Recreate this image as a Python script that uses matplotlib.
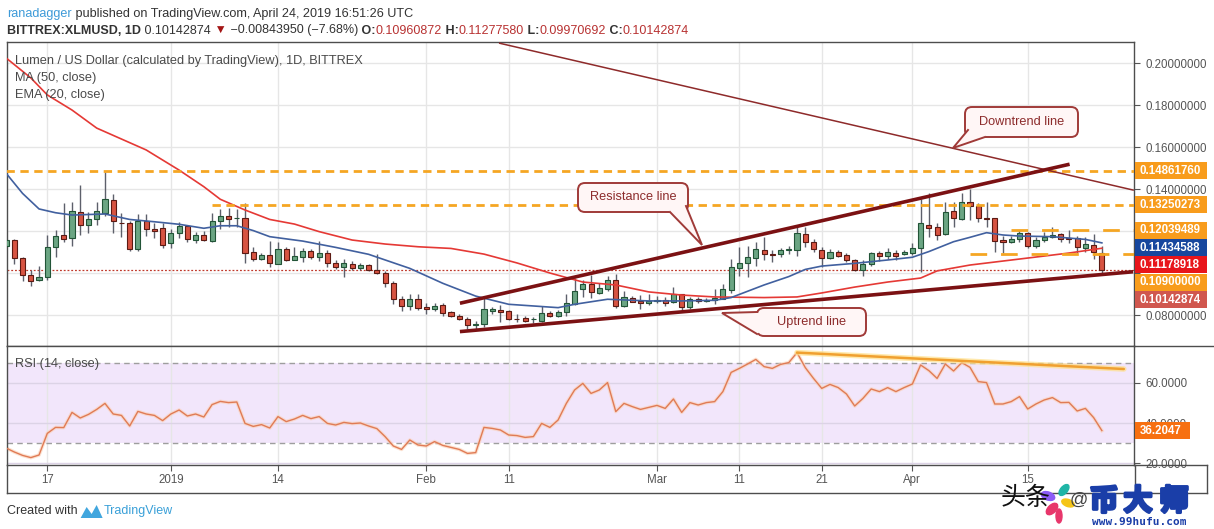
#!/usr/bin/env python3
"""XLM/USD daily candles with MA/EMA, trend lines and RSI, TradingView style."""

import matplotlib

matplotlib.use("Agg")
import matplotlib.dates as mdates
import matplotlib.patheffects as pe
import matplotlib.pyplot as plt
import numpy as np
import pandas as pd
from matplotlib.patches import Ellipse, FancyBboxPatch, Polygon, Rectangle

W, H = 1214, 529
FONT = ["Liberation Sans", "DejaVu Sans"]
CJK = ["Noto Sans CJK SC", "DejaVu Sans"]

# ---- daily candles, first bar 2018-12-12, last bar 2019-04-24 ----
first_day = "2018-12-12"

opens = [
    0.1129, 0.1157, 0.1070, 0.0989, 0.0965, 0.0979, 0.1122, 0.1179, 0.1165, 0.1289,
    0.1227, 0.1256, 0.1287, 0.1346, 0.1240, 0.1236, 0.1113, 0.1248, 0.1208, 0.1213,
    0.1141, 0.1189, 0.1222, 0.1159, 0.1179, 0.1154, 0.1246, 0.1270, 0.1260, 0.1260,
    0.1100, 0.1068, 0.1084, 0.1044, 0.1113, 0.1064, 0.1078, 0.1105, 0.1078, 0.1094,
    0.1046, 0.1030, 0.1041, 0.1025, 0.1036, 0.1014, 0.1002, 0.0954, 0.0875, 0.0843,
    0.0875,
    0.0838, 0.0827, 0.0846, 0.0813, 0.0795, 0.0783, 0.0751, 0.0756, 0.0821, 0.0824,
    0.0817, 0.0783, 0.0784, 0.0779, 0.0773, 0.0808, 0.0794, 0.0813, 0.0854, 0.0922,
    0.0946, 0.0906, 0.0925, 0.0965, 0.0843, 0.0879, 0.0868, 0.0856,
    0.0865, 0.0870, 0.0860, 0.0898, 0.0836, 0.0878, 0.0865, 0.0871, 0.0878, 0.0921,
    0.1022, 0.1046, 0.1073, 0.1108, 0.1089, 0.1089, 0.1108, 0.1111, 0.1186, 0.1146,
    0.1111, 0.1073, 0.1098, 0.1086, 0.1062, 0.1014, 0.1041, 0.1095, 0.1083, 0.1097,
    0.1089,
    0.1097, 0.1117, 0.1229, 0.1218, 0.1184, 0.1295, 0.1257, 0.1337, 0.1319, 0.1262,
    0.1260, 0.1157, 0.1146, 0.1160, 0.1189, 0.1129, 0.1157, 0.1173, 0.1184, 0.1165,
    0.1168, 0.1121, 0.1132, 0.10960872,
]
highs = [
    0.1165, 0.1164, 0.1078, 0.1014, 0.1033, 0.1179, 0.1205, 0.1332, 0.1337, 0.1419,
    0.1292, 0.1340, 0.1483, 0.1375, 0.1287, 0.1249, 0.1281, 0.1281, 0.1236, 0.1236,
    0.1210, 0.1244, 0.1229, 0.1195, 0.1202, 0.1284, 0.1306, 0.1308, 0.1303, 0.1332,
    0.1125, 0.1094, 0.1152, 0.1146, 0.1122, 0.1122, 0.1117, 0.1113, 0.1154, 0.1110,
    0.1062, 0.1065, 0.1057, 0.1049, 0.1043, 0.1090, 0.1010, 0.0962, 0.0890, 0.0902,
    0.0902,
    0.0857, 0.0856, 0.0857, 0.0819, 0.0805, 0.0792, 0.0771, 0.0879, 0.0838, 0.0846,
    0.0824, 0.0803, 0.0795, 0.0792, 0.0843, 0.0819, 0.0822, 0.0900, 0.0975, 0.0965,
    0.0990, 0.0951, 0.0987, 0.0997, 0.0914, 0.0892, 0.0895, 0.0898,
    0.0889, 0.0887, 0.0935, 0.0902, 0.0887, 0.0887, 0.0883, 0.0925, 0.0946, 0.1068,
    0.1125, 0.1129, 0.1149, 0.1170, 0.1110, 0.1117, 0.1129, 0.1225, 0.1221, 0.1162,
    0.1122, 0.1113, 0.1110, 0.1094, 0.1065, 0.1062, 0.1102, 0.1106, 0.1117, 0.1111,
    0.1110,
    0.1141, 0.1352, 0.1379, 0.1240, 0.1340, 0.1340, 0.1379, 0.1398, 0.1332, 0.1337,
    0.1263, 0.1178, 0.1176, 0.1205, 0.1197, 0.1170, 0.1194, 0.1218, 0.1189, 0.1205,
    0.1176, 0.1173, 0.1186, 0.11277580,
]
lows = [
    0.1122, 0.1043, 0.0962, 0.0938, 0.0964, 0.0967, 0.1078, 0.1149, 0.1127, 0.1179,
    0.1189, 0.1227, 0.1271, 0.1192, 0.1170, 0.1106, 0.1106, 0.1178, 0.1168, 0.1119,
    0.1121, 0.1168, 0.1146, 0.1141, 0.1154, 0.1149, 0.1208, 0.1217, 0.1217, 0.1046,
    0.1059, 0.1062, 0.1030, 0.1041, 0.1056, 0.1060, 0.1054, 0.1065, 0.1057, 0.1027,
    0.1021, 0.0983, 0.1014, 0.1014, 0.1008, 0.0995, 0.0932, 0.0851, 0.0821, 0.0824,
    0.0824,
    0.0803, 0.0821, 0.0794, 0.0790, 0.0775, 0.0732, 0.0729, 0.0744, 0.0803, 0.0768,
    0.0776, 0.0765, 0.0765, 0.0764, 0.0768, 0.0790, 0.0789, 0.0797, 0.0848, 0.0887,
    0.0879, 0.0902, 0.0914, 0.0835, 0.0838, 0.0860, 0.0829, 0.0846,
    0.0859, 0.0841, 0.0856, 0.0824, 0.0830, 0.0859, 0.0860, 0.0854, 0.0876, 0.0906,
    0.0986, 0.0981, 0.1033, 0.1060, 0.1054, 0.1078, 0.1092, 0.1083, 0.1125, 0.1102,
    0.1027, 0.1067, 0.1075, 0.1051, 0.1010, 0.0986, 0.1035, 0.1059, 0.1065, 0.1062,
    0.1084,
    0.1086, 0.1003, 0.1173, 0.1157, 0.1183, 0.1221, 0.1252, 0.1252, 0.1244, 0.1221,
    0.1102, 0.1097, 0.1141, 0.1149, 0.1117, 0.1117, 0.1148, 0.1165, 0.1149, 0.1141,
    0.1097, 0.1102, 0.1067, 0.09970692,
]
closes = [
    0.1157, 0.1070, 0.0989, 0.0964, 0.0979, 0.1122, 0.1175, 0.1164, 0.1294, 0.1227,
    0.1256, 0.1294, 0.1351, 0.1246, 0.1236, 0.1113, 0.1246, 0.1208, 0.1202, 0.1135,
    0.1189, 0.1222, 0.1164, 0.1179, 0.1156, 0.1246, 0.1271, 0.1259, 0.1260, 0.1094,
    0.1068, 0.1086, 0.1046, 0.1114, 0.1062, 0.1079, 0.1105, 0.1078, 0.1094, 0.1046,
    0.1030, 0.1046, 0.1025, 0.1036, 0.1013, 0.1002, 0.0954, 0.0875, 0.0841, 0.0875,
    0.0832,
    0.0827, 0.0841, 0.0811, 0.0795, 0.0783, 0.0751, 0.0757, 0.0827, 0.0827, 0.0816,
    0.0783, 0.0782, 0.0773, 0.0780, 0.0808, 0.0794, 0.0814, 0.0856, 0.0913, 0.0946,
    0.0908, 0.0927, 0.0965, 0.0843, 0.0886, 0.0864, 0.0857, 0.0868,
    0.0870, 0.0856, 0.0898, 0.0836, 0.0878, 0.0867, 0.0873, 0.0879, 0.0922, 0.1027,
    0.1046, 0.1075, 0.1113, 0.1089, 0.1084, 0.1108, 0.1114, 0.1189, 0.1146, 0.1113,
    0.1073, 0.1100, 0.1083, 0.1062, 0.1014, 0.1041, 0.1094, 0.1083, 0.1098, 0.1083,
    0.1098,
    0.1117, 0.1236, 0.1216, 0.1183, 0.1289, 0.1260, 0.1337, 0.1318, 0.1260, 0.1259,
    0.1152, 0.1146, 0.1162, 0.1189, 0.1129, 0.1157, 0.1173, 0.1183, 0.1162, 0.1160,
    0.1122, 0.1136, 0.1100, 0.10142874,
]

# RSI(14), one value per bar
rsi_values = [
    27.5, 25.5, 23.8, 22.7, 24.0,
    34.8, 37.8, 37.7, 45.3, 42.5, 44.3, 46.8, 49.8, 44.5, 43.8, 38.5, 45.8, 44.5, 43.8, 41.2,
    44.5, 46.5, 43.5, 44.5, 43.0, 49.2, 50.8, 50.2, 50.5, 39.8, 38.3, 39.2, 37.5, 43.2, 40.7,
    42.0, 43.8, 42.2, 43.2, 39.8, 39.0, 40.3, 39.7, 40.0, 38.5, 37.2, 33.2, 28.5, 26.8, 31.5,
    29.0,
    28.5, 30.7, 28.8, 27.8, 26.8, 24.8, 25.2, 37.8, 37.3, 36.5, 34.0, 33.7, 32.8, 33.2, 39.8,
    37.8, 41.5, 49.8, 56.5, 59.8, 54.8, 56.5, 60.2, 45.7, 49.8, 48.2, 46.8, 47.8,
    48.8, 47.3, 52.0, 45.3, 50.2, 49.0, 50.2, 50.7, 55.7, 65.3, 67.3, 69.5, 71.8, 68.2, 67.3,
    69.3, 70.2, 75.2, 67.7, 62.3, 57.3, 59.3, 57.7, 54.5, 48.5, 52.3, 57.0, 55.7, 57.7, 55.7,
    57.7,
    59.5, 69.0, 66.2, 62.3, 69.5, 66.0, 70.2, 67.8, 60.7, 60.2, 49.5, 49.5, 50.7, 53.2, 47.0,
    49.5, 51.5, 52.7, 50.2, 50.3, 46.0, 47.3, 42.7, 36.2047,
]

# EMA(20) and MA(50)
ema_dates = [
    "2018-12-12", "2018-12-14", "2018-12-16", "2018-12-18", "2018-12-20", "2018-12-24",
    "2018-12-27", "2018-12-30", "2019-01-02", "2019-01-05", "2019-01-07", "2019-01-09",
    "2019-01-11", "2019-01-13", "2019-01-17", "2019-01-21", "2019-01-25", "2019-01-30",
    "2019-02-03", "2019-02-07", "2019-02-11", "2019-02-14", "2019-02-17", "2019-02-19",
    "2019-02-23", "2019-02-28", "2019-03-04", "2019-03-08", "2019-03-10", "2019-03-14",
    "2019-03-17", "2019-03-19", "2019-03-21", "2019-03-25", "2019-03-29", "2019-04-01",
    "2019-04-03", "2019-04-06", "2019-04-08", "2019-04-10", "2019-04-12", "2019-04-14",
    "2019-04-18", "2019-04-22", "2019-04-24",
]
ema_values = [
    0.1475, 0.1379, 0.1305, 0.1287, 0.1276, 0.1281, 0.1255, 0.1244, 0.1232, 0.1213,
    0.1225, 0.1225, 0.1202, 0.1173, 0.1152, 0.1122, 0.1089, 0.1022, 0.0951, 0.0890,
    0.0851, 0.0843, 0.0835, 0.0851, 0.0875, 0.0867, 0.0867, 0.0870, 0.0883, 0.0943,
    0.0983, 0.1017, 0.1033, 0.1046, 0.1062, 0.1075, 0.1102, 0.1149, 0.1170, 0.1192,
    0.1181, 0.1176, 0.1173, 0.1160, 0.11434588,
]
ma_dates = [
    "2018-12-12", "2018-12-15", "2018-12-17", "2018-12-20", "2018-12-23", "2018-12-29",
    "2018-12-31", "2019-01-02", "2019-01-05", "2019-01-07", "2019-01-10", "2019-01-13",
    "2019-01-16", "2019-01-19", "2019-01-23", "2019-01-27", "2019-01-31", "2019-02-04",
    "2019-02-08", "2019-02-12", "2019-02-16", "2019-02-20", "2019-02-24", "2019-02-28",
    "2019-03-04", "2019-03-08", "2019-03-14", "2019-03-18", "2019-03-21", "2019-03-25",
    "2019-03-29", "2019-04-02", "2019-04-04", "2019-04-08", "2019-04-12", "2019-04-16",
    "2019-04-20", "2019-04-24",
]
ma_values = [
    0.2024, 0.1929, 0.1848, 0.1776, 0.1690, 0.1586, 0.1538, 0.1490, 0.1411, 0.1351,
    0.1300, 0.1255, 0.1233, 0.1197, 0.1157, 0.1138, 0.1125, 0.1117, 0.1090, 0.1048,
    0.1000, 0.0957, 0.0943, 0.0910, 0.0895, 0.0886, 0.0883, 0.0886, 0.0905, 0.0933,
    0.0957, 0.0976, 0.1010, 0.1038, 0.1057, 0.1076, 0.1095, 0.11178918,
]

# drawn trend lines (two end points each)
downtrend_dates = ["2019-02-09 22:00", "2019-04-27 19:00"]
downtrend_values = [0.2094, 0.1395]
resistance_dates = ["2019-02-05 02:00", "2019-04-20 02:00"]
resistance_values = [0.0856, 0.1518]
uptrend_dates = ["2019-02-05 02:00", "2019-04-27 19:00"]
uptrend_values = [0.0721, 0.1006]
rsi_div_dates = ["2019-03-18 00:00", "2019-04-26 16:00"]
rsi_div_values = [75.2, 67.0]

# horizontal levels
level_values = [0.14861760, 0.13250273, 0.12039489, 0.10900000]
level_starts = ["2018-12-12", "2019-01-06", "2019-04-13", "2019-04-08"]

# right scale value tags
tag_values = [0.14861760, 0.13250273, 0.12039489, 0.11434588, 0.11178918, 0.10900000, 0.10142874]
tag_colors = ["#f89c1c", "#f89c1c", "#f89c1c", "#17479e", "#e8151b", "#f89c1c", "#d0574e"]
rsi_tag = 36.2047

price_ticks = [0.08, 0.10, 0.12, 0.14, 0.16, 0.18, 0.20]
rsi_ticks = [20, 40, 60]
tick_dates = ["2018-12-17", "2019-01-01", "2019-01-14", "2019-02-01", "2019-02-11",
              "2019-03-01", "2019-03-11", "2019-03-21", "2019-04-01", "2019-04-15"]
tick_labels = ["17", "2019", "14", "Feb", "11", "Mar", "11", "21", "Apr", "15"]

change, change_pct = -0.00843950, -7.68

ORANGE = "#f5a623"
DARK = "#333333"
GREY = "#555555"
FRAME = "#4d4d4d"
BOX_FC = "#fff6f6"
BOX_EC = "#a03a38"
WM_BLUE = "#1a3ea8"


def dn(values):
    return mdates.date2num(pd.to_datetime(values, format="mixed"))


def run_text(ov, x, y, runs, size, family=FONT):
    rend = ov.figure.canvas.get_renderer()
    for text, color, weight in runs:
        t = ov.text(x, y, text, color=color, fontsize=size, fontweight=weight,
                    family=family, ha="left", va="center", zorder=10)
        x += t.get_window_extent(renderer=rend).width
    return x


def fit_size(ov, runs, size, width, family=FONT):
    rend = ov.figure.canvas.get_renderer()
    total = 0.0
    for text, _, weight in runs:
        t = ov.text(0, 0, text, fontsize=size, fontweight=weight, family=family)
        total += t.get_window_extent(renderer=rend).width
        t.remove()
    return size * width / total


def callout(ov, text, box, base, tip, size):
    x0, y0, x1, y1 = box
    cx, cy = (x0 + x1) / 2, (y0 + y1) / 2
    ov.add_patch(FancyBboxPatch((x0, y0), x1 - x0, y1 - y0,
                                boxstyle="round,pad=0,rounding_size=7",
                                fc=BOX_FC, ec=BOX_EC, lw=1.4, zorder=6))
    inset = [(bx + (cx - bx) * 0.08, by + (cy - by) * 0.25) for bx, by in base]
    ov.add_patch(Polygon([base[0], tip, base[1], inset[1], inset[0]], closed=True,
                         fc=BOX_FC, ec="none", zorder=7))
    ov.plot([base[0][0], tip[0], base[1][0]], [base[0][1], tip[1], base[1][1]],
            color=BOX_EC, lw=1.4, zorder=8, solid_joinstyle="miter")
    ov.text(cx, cy, text, color="#8c2b2b", fontsize=size, family=FONT,
            ha="center", va="center", zorder=9)


fig = plt.figure(figsize=(W / 100, H / 100), dpi=100)
fig.patch.set_facecolor("white")
ax = fig.add_axes([7 / W, 1 - 346 / H, (1134 - 7) / W, (346 - 42) / H])
ax_rsi = fig.add_axes([7 / W, 1 - 465 / H, (1134 - 7) / W, (465 - 346) / H], sharex=ax)

xs = mdates.date2num(pd.date_range(first_day, periods=len(closes), freq="D"))
o, h, l, c = (np.array(v) for v in (opens, highs, lows, closes))
anchor = dn(["2018-12-17"])[0]
xlim = (anchor - 4.89, anchor + 131.9)
ax.set_xlim(*xlim)
ax.set_ylim(0.06524, 0.2100)
ax_rsi.set_ylim(19.0, 78.5)

tick_x = dn(tick_dates)
for a in (ax, ax_rsi):
    for t in tick_x:
        a.axvline(t, color="#e6e6e6", lw=1, zorder=0.5)
    for s in a.spines.values():
        s.set_color(FRAME)
        s.set_linewidth(1)
for v in price_ticks:
    ax.axhline(v, color="#e6e6e6", lw=1, zorder=0.5)

# candles
up = c >= o
ax.vlines(xs, l, h, color="#5d606b", lw=1, zorder=2)
ax.bar(xs, np.maximum(np.abs(c - o), 0.00012), bottom=np.minimum(o, c), width=0.62,
       color=np.where(up, "#6ba583", "#d75442"), edgecolor=np.where(up, "#225437", "#5b1a13"),
       linewidth=0.8, zorder=3)

ax.plot(dn(ma_dates), ma_values, color="#e53935", lw=1.2, zorder=4)
ax.plot(dn(ema_dates), ema_values, color="#41609f", lw=1.2, zorder=4)

# levels and price line
ax.axhline(closes[-1], color="#c0392b", lw=0.9, ls=(0, (1.5, 1.5)), zorder=1.5)
for i, (val, start) in enumerate(zip(level_values, level_starts)):
    dash = (0, (3, 2)) if i < 2 else (0, (6, 5))
    ax.plot([dn([start])[0], xlim[1]], [val, val], color=ORANGE, lw=2.0, ls=dash, zorder=4)

ax.plot(dn(downtrend_dates), downtrend_values, color="#8e2a2a", lw=1.1, zorder=5)
ax.plot(dn(resistance_dates), resistance_values, color="#7b1113", lw=2.6, zorder=5,
        solid_capstyle="butt")
ax.plot(dn(uptrend_dates), uptrend_values, color="#7b1113", lw=2.6, zorder=5,
        solid_capstyle="butt")

# RSI pane
ax_rsi.axhspan(30, 70, color="#f2e6fb", zorder=0.2, lw=0)
for v in rsi_ticks:
    ax_rsi.axhline(v, color="#dcd3e6", lw=1, zorder=0.5)
for v in (30, 70):
    ax_rsi.axhline(v, color="#9e9e9e", lw=1, ls=(0, (4, 3)), zorder=1)
ax_rsi.plot(xs, rsi_values, color="#fbd0b5", lw=2.6, alpha=0.6, zorder=2)
ax_rsi.plot(xs, rsi_values, color="#e07b55", lw=1.0, zorder=3)
ax_rsi.plot(dn(rsi_div_dates), rsi_div_values, color="#ffe08a", lw=4, alpha=0.7, zorder=3,
            solid_capstyle="round")
ax_rsi.plot(dn(rsi_div_dates), rsi_div_values, color="#f0a030", lw=1.8, zorder=4,
            solid_capstyle="round")

# axes ticks
ax.set_xticks(tick_x)
ax.tick_params(axis="x", length=0, labelbottom=False)
ax_rsi.tick_params(axis="x", direction="out", length=4, color=GREY, labelbottom=False)
for a in (ax, ax_rsi):
    a.yaxis.tick_right()
    a.tick_params(axis="y", direction="out", length=4, color=GREY, labelcolor=GREY,
                  labelsize=8.3, pad=4)

# right scale tags: stack them so they do not overlap
tag_y = [H - ax.transData.transform((xlim[0], v))[1] for v in tag_values]
order = np.argsort(tag_y)
placed = {}
prev = -1e9
for i in order:
    y = max(tag_y[i], prev + 17.4)
    placed[i] = y
    prev = y

ax.set_yticks(price_ticks)
plabels = []
for v in price_ticks:
    ty = H - ax.transData.transform((xlim[0], v))[1]
    hidden = any(abs(ty - py) < 12 for py in placed.values())
    plabels.append("" if hidden else f"{v:.8f}")
ax.set_yticklabels(plabels, family=FONT)
ax_rsi.set_yticks(rsi_ticks)
ax_rsi.set_yticklabels([f"{v:.4f}" for v in rsi_ticks], family=FONT)

# overlay in pixel coordinates
ov = fig.add_axes([0, 0, 1, 1], zorder=5)
ov.set_xlim(0, W)
ov.set_ylim(H, 0)
ov.axis("off")
ov.patch.set_alpha(0)

for i, y in placed.items():
    ov.add_patch(Rectangle((1135, y - 8.5), 72, 17, color=tag_colors[i], zorder=6, lw=0))
    ov.text(1140, y, f"{tag_values[i]:.8f}", color="white", fontsize=8.3, fontweight="bold",
            family=FONT, va="center", ha="left", zorder=7)
ry = H - ax_rsi.transData.transform((xlim[0], rsi_tag))[1]
ov.add_patch(Rectangle((1135, ry - 8.5), 55, 17, color="#f77010", zorder=6, lw=0))
ov.text(1140, ry, f"{rsi_tag:.4f}", color="white", fontsize=8.3, fontweight="bold",
        family=FONT, va="center", ha="left", zorder=7)

# frame pieces outside the axes
ov.plot([7, 1207], [492.5, 492.5], color=FRAME, lw=1, zorder=6)
ov.plot([7, 7], [465, 493], color=FRAME, lw=1, zorder=6)
ov.plot([1134.5, 1134.5], [465, 493], color=FRAME, lw=1, zorder=6)
ov.plot([1206.5, 1206.5], [465, 493], color=FRAME, lw=1, zorder=6)
ov.plot([1134, 1214], [346, 346], color=FRAME, lw=1, zorder=6)
ov.plot([1134, 1207], [465, 465], color=FRAME, lw=1, zorder=6)

# time axis labels
for t, lab in zip(tick_x, tick_labels):
    px = ax.transData.transform((t, 0.1))[0]
    ov.text(px, 480, lab, color=GREY, fontsize=8.3, family=FONT, ha="center", va="center")

# header
line1 = [("ranadagger", "#3d9ad8", "normal"),
         (" published on TradingView.com, April 24, 2019 16:51:26 UTC", DARK, "normal")]
red = "#b83232"
line2 = [("BITTREX:XLMUSD, 1D", DARK, "bold"), (f" {closes[-1]:.8f}", DARK, "normal"),
         (" \u25bc", "#a31515", "normal"),
         (f" \u2212{abs(change):.8f} (\u2212{abs(change_pct):.2f}%)", DARK, "normal"),
         (" O:", DARK, "bold"), (f"{opens[-1]:.8f}", red, "normal"),
         (" H:", DARK, "bold"), (f"{highs[-1]:.8f}", red, "normal"),
         (" L:", DARK, "bold"), (f"{lows[-1]:.8f}", red, "normal"),
         (" C:", DARK, "bold"), (f"{closes[-1]:.8f}", red, "normal")]
run_text(ov, 7, 13.5, line1, fit_size(ov, line1, 10, 406))
run_text(ov, 7, 30.5, line2, fit_size(ov, line2, 10, 677))

title = [("Lumen / US Dollar (calculated by TradingView), 1D, BITTREX", "#4a4a4a", "normal")]
tsize = fit_size(ov, title, 10, 349)
run_text(ov, 15, 61, title, tsize)
run_text(ov, 15, 78, [("MA (50, close)", "#4a4a4a", "normal")], tsize)
run_text(ov, 15, 95, [("EMA (20, close)", "#4a4a4a", "normal")], tsize)
run_text(ov, 15, 363.5, [("RSI (14, close)", "#4a4a4a", "normal")], tsize)

# callouts
callout(ov, "Resistance line", (578, 183, 688, 212), [(670, 212), (686, 206)], (702, 245), 9.2)
callout(ov, "Downtrend line", (965, 107, 1078, 137), [(968, 130), (985, 137)], (953, 148), 9.2)
callout(ov, "Uptrend line", (757, 308, 866, 336), [(757, 312), (757, 334)], (722, 313), 9.2)

# footer
foot = run_text(ov, 7, 511, [("Created with", DARK, "normal")], 9)
ov.add_patch(Polygon([(foot + 3, 518), (foot + 9, 507), (foot + 14, 514), (foot + 19, 505),
                      (foot + 25, 518)], closed=True, fc="#41a6de", ec="none"))
run_text(ov, foot + 26, 511, [("TradingView", "#3aa0d8", "normal")], 9)

# watermark
ov.text(1026, 498, "头条", color="#111111", fontsize=18, family=CJK,
        ha="center", va="center", zorder=9)
for dx, dy, w, hh, ang, col in [(-10, -4, 14, 8, 20, "#8b5cf6"), (6, -10, 13, 7, -50, "#1fb5a6"),
                                (10, 3, 13, 7, 20, "#f5c518"), (-6, 9, 14, 8, -45, "#e8366b"),
                                (1, 16, 6, 14, 0, "#e8366b")]:
    ov.add_patch(Ellipse((1058 + dx, 500 + dy), w, hh, angle=ang, color=col, zorder=8))
ov.text(1079, 500, "@", color="#444444", fontsize=13, family=FONT, ha="center",
        va="center", zorder=9)
thick = [pe.withStroke(linewidth=2.2, foreground=WM_BLUE)]
for cx, ch in zip((1104, 1138, 1174), "币大师"):
    ov.text(cx, 501, ch, color=WM_BLUE, fontsize=21, fontweight="bold", family=CJK,
            ha="center", va="center", zorder=9, path_effects=thick)
ov.text(1139, 522, "www.99hufu.com", color=WM_BLUE, fontsize=8, fontweight="bold",
        family=["DejaVu Sans Mono", "DejaVu Sans"], ha="center", va="center", zorder=9)

fig.savefig("out.png", dpi=100, facecolor="white")
